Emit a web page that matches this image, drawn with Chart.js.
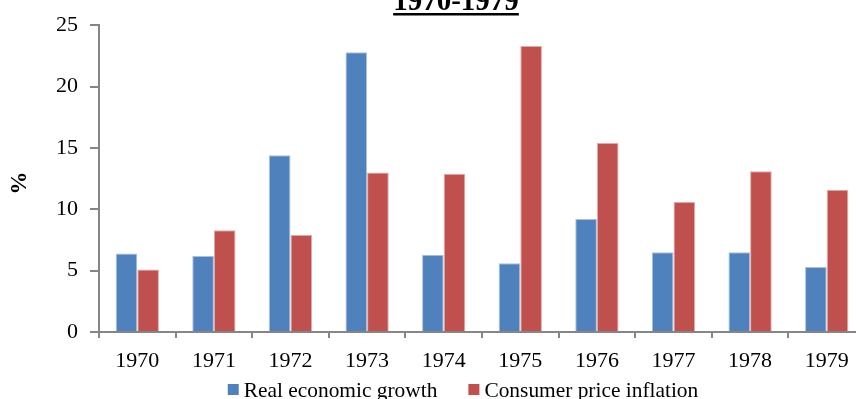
<!DOCTYPE html>
<html>
<head>
<meta charset="utf-8">
<script src="https://cdn.jsdelivr.net/npm/chart.js@4/dist/chart.umd.min.js"></script>
<style>
  html, body { margin: 0; padding: 0; background: #fff; overflow: hidden; }
  #wrap { width: 856px; height: 399px; overflow: hidden; position: relative; }
  canvas { display: block; }
</style>
</head>
<body>
<div id="wrap"><canvas id="c" width="880" height="399"></canvas></div>
<script>
// Annual figures, 1970-1979 (%)
const years = ['1970', '1971', '1972', '1973', '1974', '1975', '1976', '1977', '1978', '1979'];
const realGrowth = [6.4, 6.2, 14.4, 22.8, 6.3, 5.6, 9.2, 6.5, 6.5, 5.3];
const cpiInflation = [5.1, 8.3, 7.9, 13.0, 12.9, 23.3, 15.4, 10.6, 13.1, 11.6];
const seriesNames = ['Real economic growth', 'Consumer price inflation'];
const periodTitle = '1970-1979';
const yTicks = [0, 5, 10, 15, 20, 25];

const FONT = "'Liberation Serif', 'Times New Roman', serif";
const AXIS = '#868686';

// Bold underlined heading, partly above the top edge
const headingPlugin = {
  id: 'heading',
  afterDraw(chart) {
    const ctx = chart.ctx;
    ctx.save();
    ctx.font = 'bold 29px ' + FONT;
    ctx.fillStyle = '#000';
    ctx.textAlign = 'center';
    ctx.textBaseline = 'alphabetic';
    const cx = 456;
    ctx.fillText(periodTitle, cx, 10);
    const w = ctx.measureText(periodTitle).width;
    ctx.fillRect(cx - w / 2, 13, w, 2.5);
    ctx.restore();
  }
};

// Rotated, bold unit label beside the value axis
const unitLabelPlugin = {
  id: 'unitLabel',
  afterDraw(chart) {
    const ctx = chart.ctx;
    ctx.save();
    ctx.font = 'bold 23px ' + FONT;
    ctx.fillStyle = '#000';
    ctx.textAlign = 'center';
    ctx.textBaseline = 'middle';
    ctx.translate(20, 183);
    ctx.rotate(-Math.PI / 2);
    ctx.fillText('%', 0, 0);
    ctx.restore();
  }
};

// Legend row under the axis labels
const legendRowPlugin = {
  id: 'legendRow',
  afterDraw(chart) {
    const ctx = chart.ctx;
    ctx.save();
    ctx.font = '21.4px ' + FONT;
    ctx.textBaseline = 'alphabetic';
    ctx.fillStyle = '#000';
    const sq = 11, gap = 5, between = 31;
    const items = chart.data.datasets.map(d => ({ label: d.label, color: d.backgroundColor, w: ctx.measureText(d.label).width }));
    let total = 0;
    items.forEach((it, i) => { total += sq + gap + it.w + (i < items.length - 1 ? between : 0); });
    let x = 463 - total / 2;
    items.forEach(it => {
      ctx.fillStyle = it.color;
      ctx.fillRect(x, 384, sq, sq);
      ctx.fillStyle = '#000';
      ctx.textAlign = 'left';
      ctx.fillText(it.label, x + sq + gap, 397);
      x += sq + gap + it.w + between;
    });
    ctx.restore();
  }
};

Chart.defaults.font.family = FONT;
Chart.defaults.font.size = 22;
Chart.defaults.color = '#000';

new Chart(document.getElementById('c'), {
  type: 'bar',
  data: {
    labels: years,
    datasets: [
      { label: seriesNames[0], data: realGrowth, backgroundColor: '#4F81BD', borderColor: '#A9C0DE', borderWidth: 1 },
      { label: seriesNames[1], data: cpiInflation, backgroundColor: '#C0504D', borderColor: '#E2AAA8', borderWidth: 1 }
    ]
  },
  options: {
    responsive: false,
    animation: false,
    layout: { padding: { top: 25, left: 0, right: 15, bottom: 27 } },
    datasets: { bar: { barPercentage: 1, categoryPercentage: 0.565 } },
    plugins: {
      legend: { display: false },
      title: { display: false },
      tooltip: { enabled: false }
    },
    scales: {
      x: {
        grid: { display: true, drawOnChartArea: false, drawTicks: true, tickLength: 6, color: AXIS, lineWidth: 2, offset: true },
        border: { display: true, color: AXIS, width: 2 },
        ticks: { padding: 10, font: { size: 22 }, color: '#000', maxRotation: 0 },
        afterFit(scale) { scale.height = 40; }
      },
      y: {
        min: 0,
        max: 25,
        afterBuildTicks(scale) { scale.ticks = yTicks.map(v => ({ value: v })); },
        grid: { display: true, drawOnChartArea: false, drawTicks: true, tickLength: 9, color: AXIS, lineWidth: 2 },
        border: { display: true, color: AXIS, width: 2 },
        ticks: { padding: 12, font: { size: 22 }, color: '#000' },
        afterFit(scale) { scale.width = 99; }
      }
    }
  },
  plugins: [headingPlugin, unitLabelPlugin, legendRowPlugin]
});
</script>
</body>
</html>
